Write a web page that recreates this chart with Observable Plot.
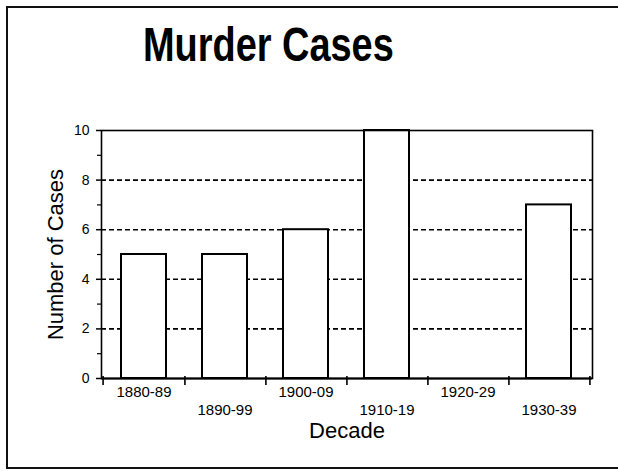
<!DOCTYPE html>
<html>
<head>
<meta charset="utf-8">
<script src="https://cdn.jsdelivr.net/npm/d3@7"></script>
<script src="https://cdn.jsdelivr.net/npm/@observablehq/plot@0.6"></script>
<style>
  html, body { margin: 0; padding: 0; background: #fff; overflow: hidden; }
  #wrap { position: relative; width: 618px; height: 471px; overflow: hidden; background: #fff; font-family: "Liberation Sans", Arial, sans-serif; }
  .line { position: absolute; background: #111; }
  #title { position: absolute; left: 143px; top: 21px; font-size: 48px; line-height: 48px; font-weight: bold; white-space: nowrap; transform: scaleX(0.79); transform-origin: 0 0; color: #000; }
  #chart { position: absolute; left: 0; top: 0; }
</style>
</head>
<body>
<div id="wrap">
  <div class="line" style="left:6px; top:6px; width:2px; height:463px;"></div>
  <div class="line" style="left:6px; top:6px; width:620px; height:2px;"></div>
  <div class="line" style="left:6px; top:467px; width:620px; height:2px;"></div>
  <div id="chart"></div>
  <div id="title">Murder Cases</div>
</div>
<script>
const decades = ["1880-89", "1890-99", "1900-09", "1910-19", "1920-29", "1930-39"];
const cases = [5, 5, 6, 10, 0, 7];
const yTicks = [0, 2, 4, 6, 8, 10];
const yMinorTicks = [1, 3, 5, 7, 9];
const gridValues = [2, 4, 6, 8];
const title = "Murder Cases";
const xLabel = "Decade";
const yLabel = "Number of Cases";

const data = decades.map((d, i) => ({decade: d, cases: cases[i], row: i % 2}));

const W = 618, H = 471, mL = 101, mR = 26, mT = 130, mB = 93;
const step = (W - mL - mR) / decades.length;

const chart = Plot.plot({
  width: W,
  height: H,
  marginLeft: mL,
  marginRight: mR,
  marginTop: mT,
  marginBottom: mB,
  style: {fontFamily: "'Liberation Sans', Arial, sans-serif", color: "#000", background: "transparent"},
  x: {domain: decades, paddingInner: 0.44, paddingOuter: 0.22, axis: null},
  y: {domain: [0, 10], axis: null},
  marks: [
    Plot.ruleY(gridValues, {stroke: "#000", strokeWidth: 1.6, strokeDasharray: "5,3"}),
    Plot.barY(data, {x: "decade", y: "cases", fill: "white", stroke: "#000", strokeWidth: 2}),
    Plot.frame({stroke: "#000", strokeWidth: 1.6}),
    Plot.ruleY([0], {stroke: "#000", strokeWidth: 2}),
    Plot.axisY({ticks: yTicks, tickSize: 5, tickPadding: 7, fontSize: 14, label: null, stroke: "#000", strokeWidth: 1.5}),
    Plot.axisY({ticks: yMinorTicks, tickSize: 4, tickFormat: () => "", label: null, stroke: "#000", strokeWidth: 1.2}),
    Plot.ruleX(decades, {x: d => d, y1: 0.08, y2: -0.28, dx: step / 2, stroke: "#000", strokeWidth: 1.6}),
    Plot.ruleX(decades.slice(0, 1), {x: d => d, y1: 0.08, y2: -0.28, dx: -step / 2, stroke: "#000", strokeWidth: 1.6}),
    Plot.text(data.filter(d => d.row === 0), {x: "decade", y: 0, text: "decade", dy: 14, fontSize: 15, fill: "#000"}),
    Plot.text(data.filter(d => d.row === 1), {x: "decade", y: 0, text: "decade", dy: 32, fontSize: 15, fill: "#000"}),
    Plot.text([xLabel], {frameAnchor: "bottom", lineAnchor: "middle", textAnchor: "middle", dy: 52, fontSize: 22, fill: "#000"}),
    Plot.text([yLabel], {frameAnchor: "left", textAnchor: "middle", lineAnchor: "middle", rotate: -90, dx: -46, fontSize: 22, fill: "#000"})
  ]
});
document.getElementById("chart").appendChild(chart);
document.getElementById("title").textContent = title;
</script>
</body>
</html>
